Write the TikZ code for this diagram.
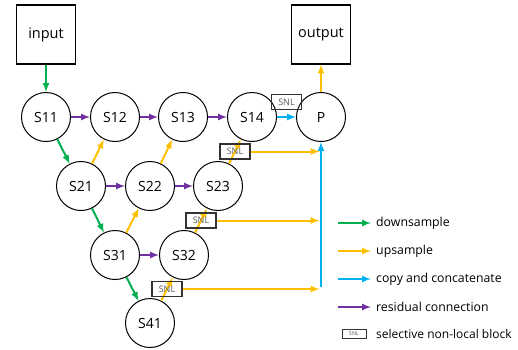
\documentclass[tikz,border=0pt]{standalone}
\usepackage{fontspec}
\setmainfont{Open Sans}
\definecolor{dsgreen}{RGB}{0,176,80}
\definecolor{usyellow}{RGB}{255,192,0}
\definecolor{ccblue}{RGB}{0,176,240}
\definecolor{rcpurple}{RGB}{112,48,160}
\begin{document}
\begin{tikzpicture}[x=1pt,y=-1pt,>=latex]
    \tikzstyle{stage}=[circle,draw,line width=1pt,minimum size=49pt,inner sep=0pt,font=\fontsize{14}{16}\selectfont]
    \tikzstyle{io}=[rectangle,draw,line width=1.2pt,minimum size=59pt,inner sep=0pt,font=\fontsize{14.5}{16}\selectfont]
    \tikzstyle{snl}=[rectangle,draw=black!80,line width=1.2pt,minimum width=30pt,minimum height=15pt,inner sep=0pt,text=black!65,font=\fontsize{9}{10}\selectfont]
    \tikzstyle{key}=[anchor=west,inner sep=0pt,font=\fontsize{12.3}{14}\selectfont]
    \tikzstyle{downarr}=[->,line width=2pt,dsgreen]
    \tikzstyle{uparr}=[->,line width=2pt,usyellow]
    \tikzstyle{copyarr}=[->,line width=2pt,ccblue]
    \tikzstyle{resarr}=[->,line width=2pt,rcpurple]
    \useasboundingbox (0,0) rectangle (518,349);
    \node[io] (input) at (46,34.5) {input};
    \node[io] (output) at (321,34.5) {output};
    \node[stage] (s11) at (46,117) {S11};
    \node[stage] (s12) at (115,117) {S12};
    \node[stage] (s13) at (183,117) {S13};
    \node[stage] (s14) at (252,117) {S14};
    \node[stage] (p) at (321,117) {P};
    \node[stage] (s21) at (81,186) {S21};
    \node[stage] (s22) at (150,186) {S22};
    \node[stage] (s23) at (218,186) {S23};
    \node[stage] (s31) at (115,255) {S31};
    \node[stage] (s32) at (184,255) {S32};
    \node[stage] (s41) at (150,323) {S41};
    \draw[downarr] (input) -- (s11);
    \draw[downarr] (s11) -- (s21);
    \draw[downarr] (s21) -- (s31);
    \draw[downarr] (s31) -- (s41);
    \draw[resarr] (s11) -- (s12);
    \draw[resarr] (s12) -- (s13);
    \draw[resarr] (s13) -- (s14);
    \draw[resarr] (s21) -- (s22);
    \draw[resarr] (s22) -- (s23);
    \draw[resarr] (s31) -- (s32);
    \draw[uparr] (s21) -- (s12);
    \draw[uparr] (s22) -- (s13);
    \draw[uparr] (s31) -- (s22);
    \draw[uparr] (s23) -- node[snl] (snl1) {SNL} (s14);
    \draw[uparr] (s32) -- node[snl] (snl2) {SNL} (s23);
    \draw[uparr] (s41) -- node[snl] (snl3) {SNL} (s32);
    \draw[copyarr] ([yshift=2pt]snl3.east -| p) -- (p);
    \draw[uparr,shorten >=1.5pt] (snl1.east) -- (snl1.east -| p);
    \draw[uparr,shorten >=1.5pt] (snl2.east) -- (snl2.east -| p);
    \draw[uparr,shorten >=1.5pt] (snl3.east) -- (snl3.east -| p);
    \draw[copyarr] (s14) -- node[snl,above=7pt] (snl0) {SNL} (p);
    \draw[uparr] (p) -- (output);
    \node[key] (kdown) at (376,223) {downsample};
    \node[key] (kup) at (376,251) {upsample};
    \node[key] (kcopy) at (376,279) {copy and concatenate};
    \node[key] (kres) at (376,307) {residual connection};
    \node[key,font=\fontsize{12}{14}\selectfont] (ksnl) at (376,334) {selective non-local block};
    \node[snl,minimum width=24pt,minimum height=9pt,line width=1pt,font=\fontsize{5.5}{6}\selectfont] (ksnlbox) at (354,334) {SNL};
    \draw[downarr] ([xshift=-38pt]kdown.west) -- ([xshift=-5pt]kdown.west);
    \draw[uparr] ([xshift=-38pt]kup.west) -- ([xshift=-5pt]kup.west);
    \draw[copyarr] ([xshift=-38pt]kcopy.west) -- ([xshift=-5pt]kcopy.west);
    \draw[resarr] ([xshift=-38pt]kres.west) -- ([xshift=-5pt]kres.west);
\end{tikzpicture}
\end{document}
